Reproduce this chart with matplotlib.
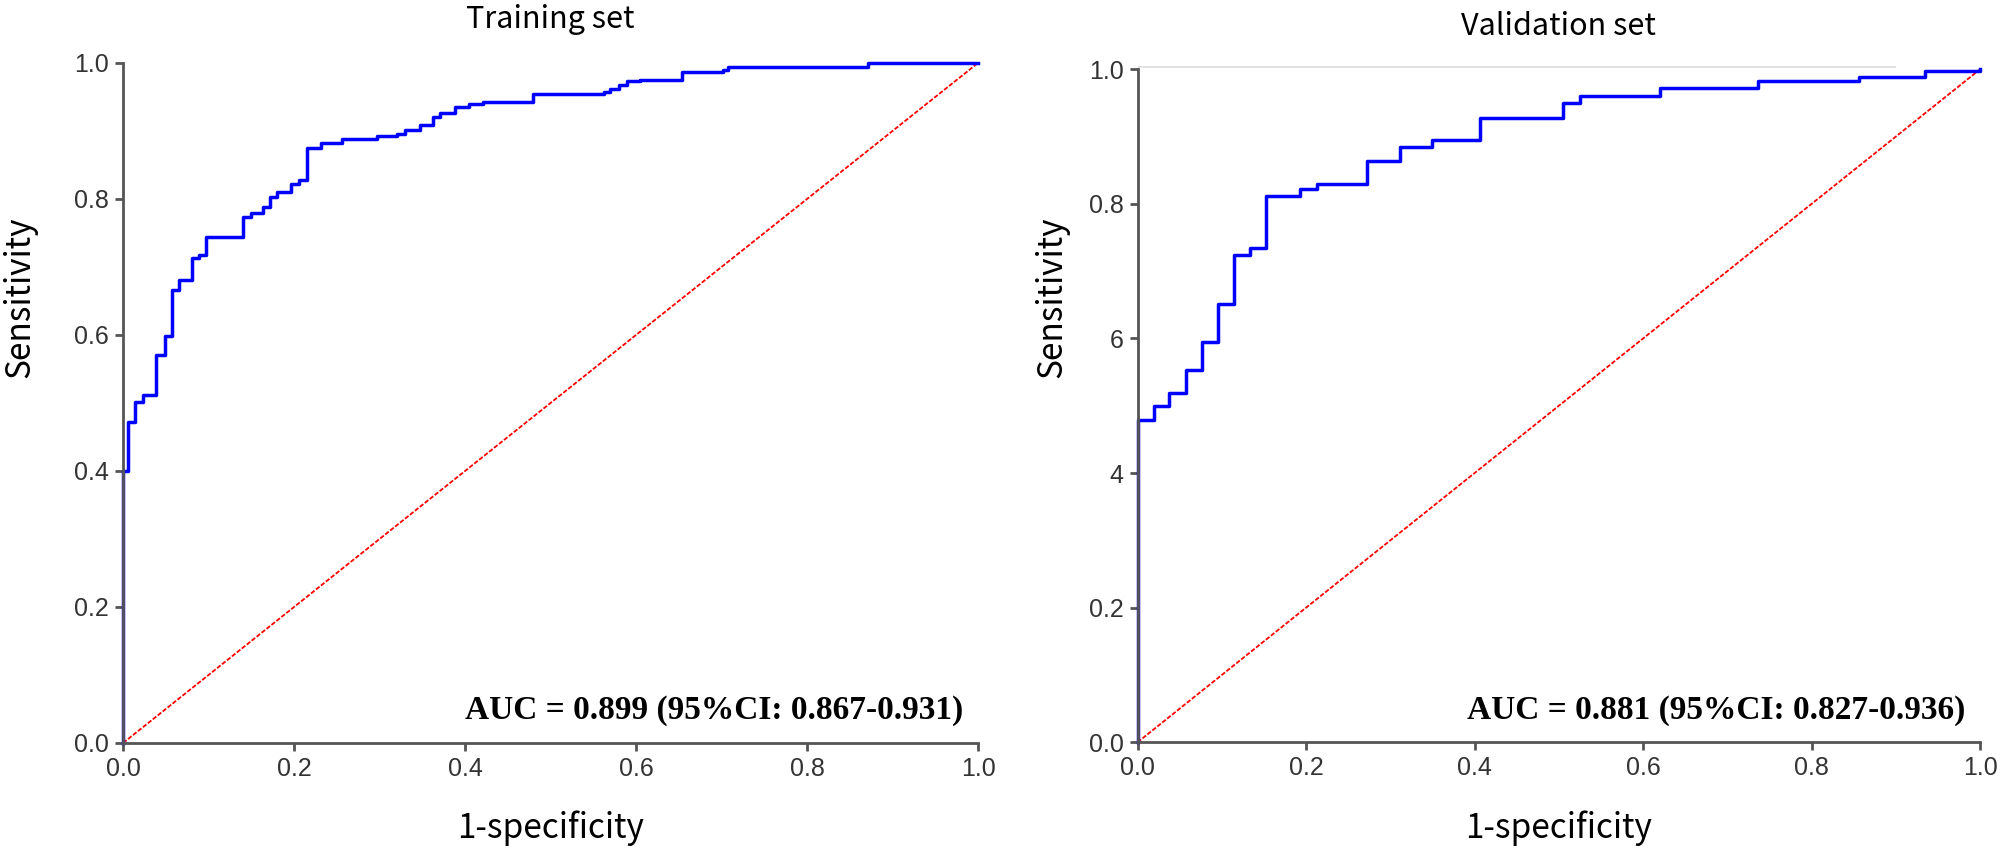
import matplotlib
matplotlib.use("Agg")
from matplotlib import pyplot as plt

# ROC points (post-step: at fpr[i] the tpr jumps to tpr[i])
train_fpr = [0.000, 0.000, 0.006, 0.014, 0.023, 0.039, 0.049, 0.057, 0.065, 0.081, 0.089,
             0.097, 0.140, 0.150, 0.164, 0.172, 0.180, 0.196, 0.206, 0.215, 0.231, 0.256,
             0.297, 0.320, 0.330, 0.347, 0.363, 0.371, 0.388, 0.404, 0.421, 0.480, 0.562,
             0.570, 0.580, 0.589, 0.605, 0.654, 0.702, 0.708, 0.871, 1.000]
train_tpr = [0.000, 0.400, 0.472, 0.502, 0.511, 0.571, 0.598, 0.666, 0.681, 0.713, 0.718,
             0.744, 0.774, 0.779, 0.788, 0.803, 0.810, 0.822, 0.828, 0.875, 0.882, 0.888,
             0.892, 0.896, 0.902, 0.909, 0.921, 0.927, 0.935, 0.940, 0.943, 0.955, 0.957,
             0.962, 0.968, 0.973, 0.975, 0.987, 0.990, 0.994, 1.000, 1.000]

val_fpr = [0.000, 0.000, 0.019, 0.037, 0.057, 0.076, 0.096, 0.114, 0.134, 0.153, 0.193,
           0.213, 0.272, 0.312, 0.349, 0.407, 0.505, 0.525, 0.620, 0.737, 0.856, 0.935, 1.000]
val_tpr = [0.000, 0.479, 0.500, 0.519, 0.553, 0.595, 0.651, 0.724, 0.734, 0.811, 0.822,
           0.830, 0.863, 0.884, 0.895, 0.927, 0.950, 0.960, 0.972, 0.982, 0.989, 0.997, 1.000]

titles = ["Training set", "Validation set"]
auc_texts = ["AUC = 0.899 (95%CI: 0.867-0.931)", "AUC = 0.881 (95%CI: 0.827-0.936)"]
ticks = [0.0, 0.2, 0.4, 0.6, 0.8, 1.0]
x_ticklabels = ["0.0", "0.2", "0.4", "0.6", "0.8", "1.0"]
y_ticklabels = [["0.0", "0.2", "0.4", "0.6", "0.8", "1.0"],
                ["0.0", "0.2", "4", "6", "0.8", "1.0"]]

label_font = ["Noto Sans CJK SC", "DejaVu Sans"]
tick_font = ["Liberation Sans Narrow", "Liberation Sans", "DejaVu Sans"]
axis_col = "#555555"

fig = plt.figure(figsize=(20.08, 8.49), dpi=100)
ax1 = fig.add_axes([0.0613, 0.1249, 0.4258, 0.801])
ax2 = fig.add_axes([0.5665, 0.1257, 0.4196, 0.7927])

curves = [(train_fpr, train_tpr), (val_fpr, val_tpr)]
label_x = [0.010, 0.524]

for i, ax in enumerate([ax1, ax2]):
    fpr, tpr = curves[i]
    ax.step(fpr, tpr, where="post", color="#0000ff", lw=2.5, clip_on=False, zorder=3)
    ax.plot([0, 1], [0, 1], color="#ff0000", lw=1.3, dashes=(2.5, 1.0), clip_on=False, zorder=2)

    ax.set_xlim(0, 1)
    ax.set_ylim(0, 1)
    for s in ["top", "right"]:
        ax.spines[s].set_visible(False)
    for s in ["left", "bottom"]:
        ax.spines[s].set_color(axis_col)
        ax.spines[s].set_linewidth(2.0)
        ax.spines[s].set_zorder(4)

    ax.set_xticks(ticks)
    ax.set_xticklabels(x_ticklabels, family=tick_font, fontsize=18, color="#333333")
    ax.set_yticks(ticks)
    ax.set_yticklabels(y_ticklabels[i], family=tick_font, fontsize=18, color="#333333")
    ax.tick_params(length=6, width=2, color=axis_col, pad=4)

    ax.set_title(titles[i], family=label_font, fontsize=22, pad=25)
    ax.text(0.983, 0.035, auc_texts[i], transform=ax.transAxes, ha="right", va="baseline",
            family="Liberation Serif", fontweight="bold", fontsize=24)

    # axis titles placed as in the picture
    bb = ax.get_position()
    fig.text((bb.x0 + bb.x1) / 2, 0.013, "1-specificity", ha="center", va="baseline",
             family=label_font, fontsize=24)
    fig.text(label_x[i], 0.65, "Sensitivity", rotation=90, ha="center",
             va="center", family=label_font, fontsize=24)

# faint top line on the validation panel
ax2.hlines(1.004, 0, 0.90, color="#dddddd", lw=1.2, clip_on=False, zorder=1)

fig.savefig("out.png", dpi=100)
